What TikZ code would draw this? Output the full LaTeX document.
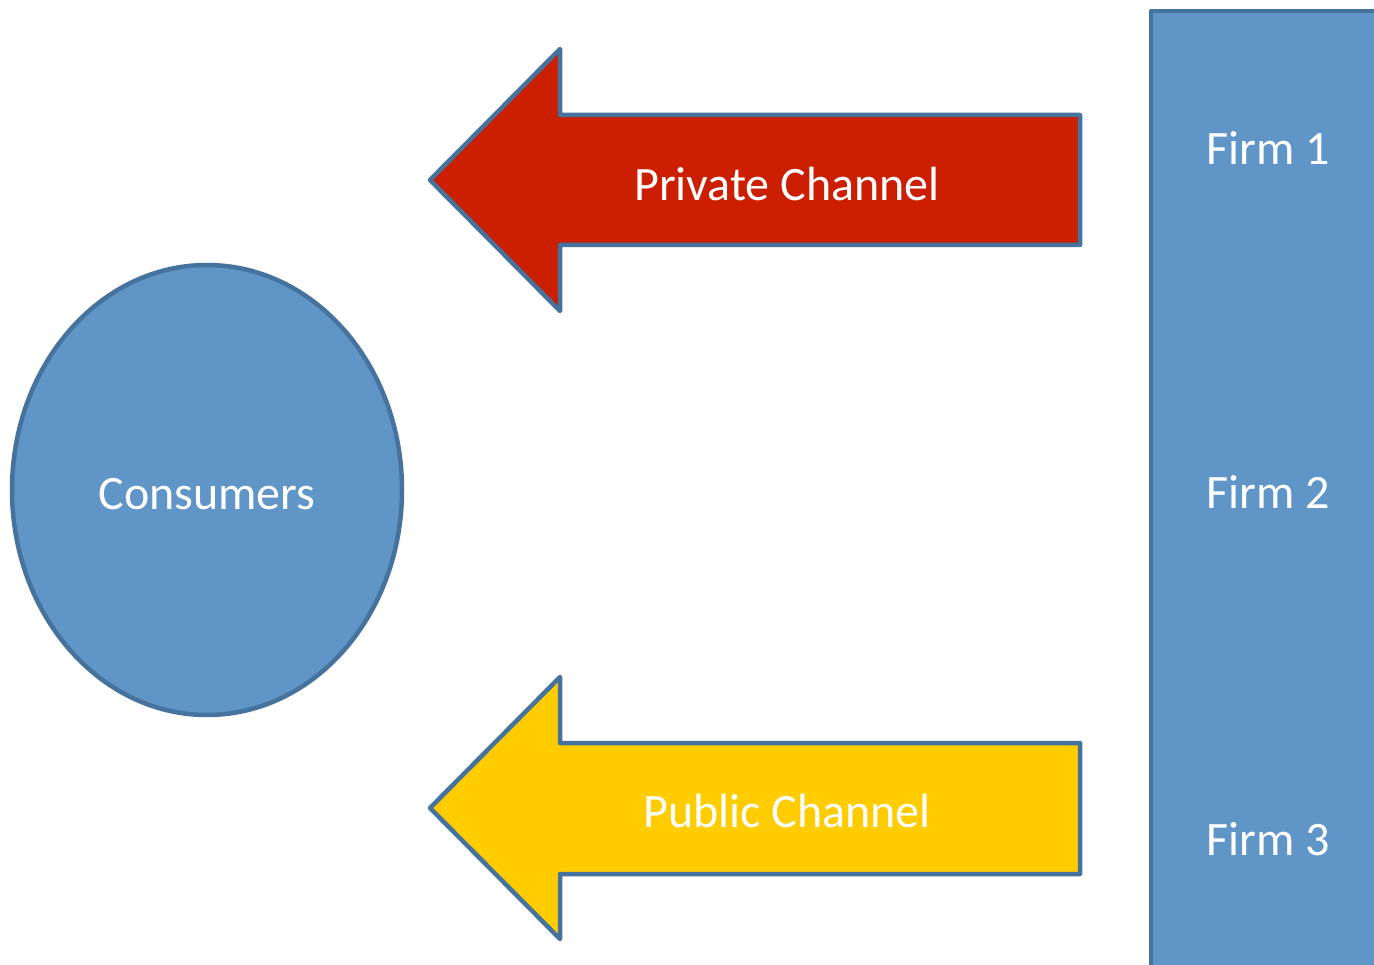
\documentclass[tikz,border=0pt]{standalone}
\usepackage{fontspec}
\setmainfont{Carlito}
\definecolor{shapefill}{RGB}{95,149,199}
\definecolor{shapeline}{RGB}{70,114,158}
\definecolor{privred}{RGB}{204,30,0}
\definecolor{pubyellow}{RGB}{255,204,0}
\tikzset{
  outline/.style={draw=shapeline, line width=4.5pt, line join=round},
  label/.style={text=white, font=\fontsize{48}{58}\selectfont, inner sep=0pt},
}
\begin{document}
\begin{tikzpicture}[x=1pt, y=-1pt]
  \useasboundingbox (0,0) rectangle (1374,965);
  % firms column, running off the right and bottom edges
  \path[outline, fill=shapefill] (1151,1000) -- (1151,11) -- (1400,11) -- (1400,1000) -- cycle;
  % consumers
  \path[outline, fill=shapefill] (207,490) ellipse [x radius=195, y radius=225];
  % private channel arrow
  \path[outline, fill=privred] (430,180) -- (560,49) -- (560,115) -- (1080,115)
        -- (1080,245) -- (560,245) -- (560,311) -- cycle;
  % public channel arrow
  \path[outline, fill=pubyellow] (430,808) -- (560,677) -- (560,743) -- (1080,743)
        -- (1080,874) -- (560,874) -- (560,939) -- cycle;
  % labels
  \node[label] (consumers) at (207,494) {Consumers};
  \node[label] (private) at (787,184) {Private Channel};
  \node[label] (public) at (787,811) {Public Channel};
  \node[label] (firm1) at (1268,148) {Firm 1};
  \node[label] (firm2) at (1268,492) {Firm 2};
  \node[label] (firm3) at (1268,839) {Firm 3};
\end{tikzpicture}
\end{document}
